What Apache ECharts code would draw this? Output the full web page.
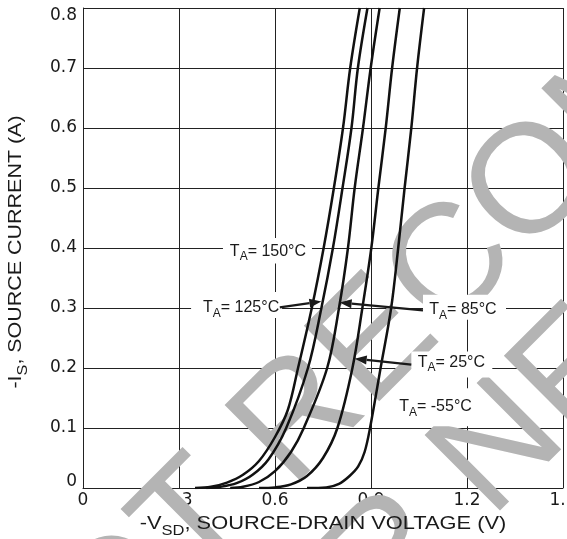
<!DOCTYPE html>
<html><head><meta charset="utf-8">
<script src="https://cdn.jsdelivr.net/npm/echarts@6/dist/echarts.min.js"></script>
<style>html,body{margin:0;padding:0;background:#fff}#c{width:567px;height:539px}</style>
</head><body><div id="c"></div>
<script>
// ---- data ----
const xTickValues = [0, 0.3, 0.6, 0.9, 1.2, 1.5];
const xTickLabels = ['0', '0.3', '0.6', '0.9', '1.2', '1.5'];
const yTickValues = [0, 0.1, 0.2, 0.3, 0.4, 0.5, 0.6, 0.7, 0.8];
const yTickLabels = ['0', '0.1', '0.2', '0.3', '0.4', '0.5', '0.6', '0.7', '0.8'];

const seriesNames = ['150°C', '125°C', '85°C', '25°C', '-55°C'];
// [ -VSD (V), -IS (A) ]
const curve150 = [[0.35,0],[0.40,0.002],[0.45,0.009],[0.50,0.022],[0.55,0.045],[0.60,0.085],[0.64,0.13],[0.672,0.2],[0.715,0.3],[0.752,0.4],[0.784,0.5],[0.8125,0.6],[0.835,0.7],[0.865,0.8]];
const curve125 = [[0.385,0],[0.43,0.002],[0.48,0.008],[0.53,0.022],[0.58,0.048],[0.635,0.1],[0.703,0.2],[0.745,0.3],[0.781,0.4],[0.811,0.5],[0.839,0.6],[0.859,0.7],[0.889,0.8]];
const curve85  = [[0.46,0],[0.50,0.002],[0.55,0.01],[0.60,0.028],[0.65,0.06],[0.69,0.1],[0.763,0.2],[0.80,0.3],[0.828,0.4],[0.849,0.5],[0.875,0.6],[0.899,0.7],[0.927,0.8]];
const curve25  = [[0.55,0],[0.60,0.001],[0.65,0.006],[0.70,0.02],[0.75,0.05],[0.795,0.1],[0.842,0.2],[0.873,0.3],[0.901,0.4],[0.923,0.5],[0.946,0.6],[0.966,0.7],[0.99,0.8]];
const curveM55 = [[0.70,0],[0.76,0.001],[0.80,0.007],[0.833,0.02],[0.86,0.036],[0.88,0.06],[0.897,0.1],[0.93,0.2],[0.963,0.3],[0.985,0.4],[1.005,0.5],[1.026,0.6],[1.044,0.7],[1.066,0.8]];
const curves = [curve150, curve125, curve85, curve25, curveM55];

// annotation labels: text, anchor [V, I] (centre of text)
const labelTexts = ['150°C', '125°C', '85°C', '25°C', '-55°C'];
const labelAnchors = [[0.578,0.394],[0.494,0.300],[1.1875,0.297],[1.151,0.209],[1.1016,0.1347]];
// arrows: from [V,I] to [V,I]
const arrowFrom = [[0.615,0.301],[1.0625,0.296],[1.026,0.2055]];
const arrowTo   = [[0.745,0.311],[0.802,0.309],[0.849,0.2155]];

const xName = ['-V', 'SD', ', SOURCE-DRAIN VOLTAGE (V)'];
const yName = ['-I', 'S', ', SOURCE CURRENT (A)'];
const watermark1 = 'NOT RECOMMENDED';
const watermark2 = 'FOR NEW DESIGN';

// ---- chart ----
const FONT = '"Liberation Sans", Arial, Helvetica, sans-serif';
const chart = echarts.init(document.getElementById('c'));

function lookup(vals, labels, v) {
  for (let i = 0; i < vals.length; i++) if (Math.abs(vals[i] - v) < 1e-6) return labels[i];
  return '';
}

chart.setOption({
  animation: false,
  grid: { left: 83, top: 8, width: 480, height: 480, containLabel: false, outerBoundsMode: 'none' },
  xAxis: {
    type: 'value', min: 0, max: 1.5, interval: 0.3,
    axisLine: { show: true, onZero: false, lineStyle: { color: '#222', width: 1 } },
    axisTick: { show: false },
    splitLine: { show: true, lineStyle: { color: '#222', width: 1 } },
    axisLabel: { fontFamily: 'DejaVu Sans', fontSize: 17, color: '#1a1a1a', margin: 4,
      formatter: v => lookup(xTickValues, xTickLabels, v) }
  },
  yAxis: {
    type: 'value', min: 0, max: 0.8, interval: 0.1,
    axisLine: { show: true, onZero: false, lineStyle: { color: '#222', width: 1 } },
    axisTick: { show: false },
    splitLine: { show: true, lineStyle: { color: '#222', width: 1 } },
    axisLabel: { fontFamily: 'DejaVu Sans', fontSize: 17, color: '#1a1a1a', margin: 6,
      formatter: v => {
        const t = lookup(yTickValues, yTickLabels, v);
        if (Math.abs(v - 0.8) < 1e-6) return '{top|' + t + '}';
        if (Math.abs(v) < 1e-6) return '{bot|' + t + '}';
        return t;
      },
      rich: {
        top: { fontFamily: 'DejaVu Sans', fontSize: 17, color: '#1a1a1a', padding: [16, 0, 0, 0] },
        bot: { fontFamily: 'DejaVu Sans', fontSize: 17, color: '#1a1a1a', padding: [0, 0, 12, 0] }
      } }
  },
  series: curves.map((c, k) => ({
    name: seriesNames[k], type: 'line', data: c, showSymbol: false, smooth: 0.35,
    lineStyle: { color: '#111', width: 2.5 }, z: 2
  }))
});

// ---- annotations ----
const px = p => chart.convertToPixel({ gridIndex: 0 }, p);
const els = [];

// watermark (decoration)
const wmRot = Math.PI / 4;
els.push({ type: 'text', x: -1, y: 721, rotation: wmRot, z: 1, silent: true,
  style: { text: watermark1, font: '155px ' + FONT, fill: '#b4b4b4', align: 'left', verticalAlign: 'middle' } });
els.push({ type: 'text', x: 199, y: 751, rotation: wmRot, z: 1, silent: true,
  style: { text: watermark2, font: '155px ' + FONT, fill: '#b4b4b4', align: 'left', verticalAlign: 'middle' } });

// label boxes: [halfWidthLeft, halfWidthRight, up, down]
const boxes = [[45, 44, 13.5, 12], [50, 41, 16, 10], [40, 43, 15, 10], [40, 41, 11, 15], [43, 42, 19, 19]];
labelTexts.forEach((t, k) => {
  const p = px(labelAnchors[k]);
  const b = boxes[k];
  els.push({ type: 'rect', z: 3, silent: true,
    shape: { x: p[0] - b[0], y: p[1] - b[2], width: b[0] + b[1], height: b[2] + b[3] },
    style: { fill: '#fff' } });
  els.push({ type: 'text', x: p[0], y: p[1] - 8.5, z: 4, silent: true,
    style: {
      text: '{m|T}{s|A}{m|= ' + t + '}', align: 'center', verticalAlign: 'top',
      rich: {
        m: { fontFamily: FONT, fontSize: 16, lineHeight: 16, verticalAlign: 'top', fill: '#1a1a1a' },
        s: { fontFamily: FONT, fontSize: 12, lineHeight: 28, fill: '#1a1a1a' }
      }
    } });
});

// arrows
arrowFrom.forEach((f, k) => {
  const a = px(f), b = px(arrowTo[k]);
  const dx = b[0] - a[0], dy = b[1] - a[1];
  const L = Math.hypot(dx, dy), ux = dx / L, uy = dy / L;
  const hl = 12, hw = 4.5;
  const base = [b[0] - ux * hl, b[1] - uy * hl];
  els.push({ type: 'line', z: 4, silent: true,
    shape: { x1: a[0], y1: a[1], x2: base[0], y2: base[1] },
    style: { stroke: '#1a1a1a', lineWidth: 2.2 } });
  els.push({ type: 'polygon', z: 4, silent: true,
    shape: { points: [b, [base[0] - uy * hw, base[1] + ux * hw], [base[0] + uy * hw, base[1] - ux * hw]] },
    style: { fill: '#1a1a1a' } });
});

// axis names
els.push({ type: 'text', x: 323, y: 514, scaleX: 1.18, z: 4, silent: true,
  style: { text: '{m|' + xName[0] + '}{s|' + xName[1] + '}{m|' + xName[2] + '}', align: 'center', verticalAlign: 'top',
    rich: {
      m: { fontFamily: FONT, fontSize: 18.5, lineHeight: 18, verticalAlign: 'top', fill: '#1a1a1a' },
      s: { fontFamily: FONT, fontSize: 14, lineHeight: 35, fill: '#1a1a1a' }
    } } });
els.push({ type: 'text', x: 6, y: 252, rotation: Math.PI / 2, scaleX: 1.16, z: 4, silent: true,
  style: { text: '{m|' + yName[0] + '}{s|' + yName[1] + '}{m|' + yName[2] + '}', align: 'center', verticalAlign: 'top',
    rich: {
      m: { fontFamily: FONT, fontSize: 18.5, lineHeight: 18, verticalAlign: 'top', fill: '#1a1a1a' },
      s: { fontFamily: FONT, fontSize: 14, lineHeight: 35, fill: '#1a1a1a' }
    } } });

chart.setOption({ graphic: { elements: els } });
</script>
</body></html>
